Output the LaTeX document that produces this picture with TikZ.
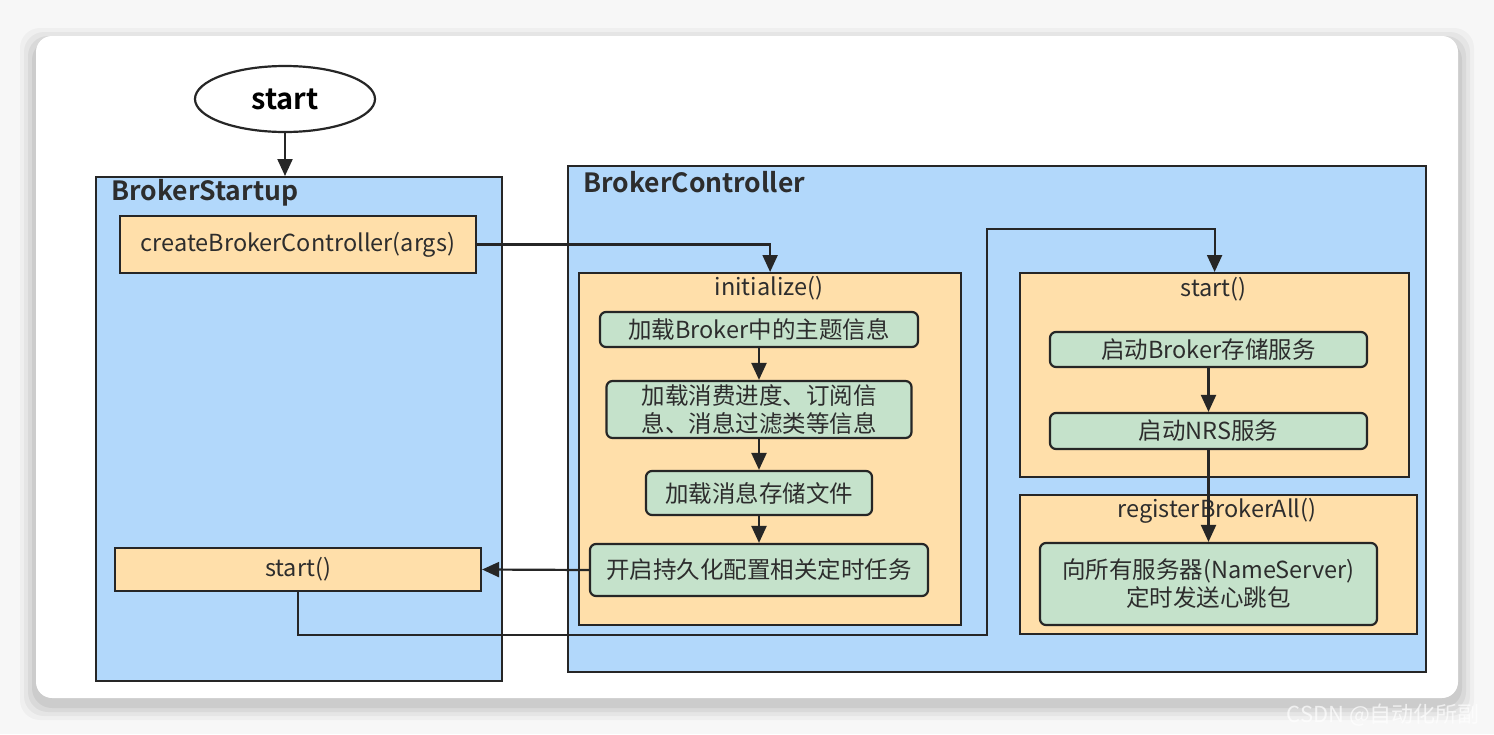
\documentclass[tikz,border=0pt]{standalone}
\usepackage{fontspec}
\setmainfont{Noto Sans CJK SC}[BoldFont={Noto Sans CJK SC Bold}]
\usetikzlibrary{arrows.meta,shapes.geometric}

\definecolor{bluebg}{RGB}{178,216,251}
\definecolor{orangebg}{RGB}{255,223,170}
\definecolor{greenbg}{RGB}{197,226,203}
\definecolor{linec}{RGB}{38,38,38}
\definecolor{textc}{RGB}{45,45,45}
\definecolor{pagebg}{RGB}{247,247,247}

\begin{document}
\begin{tikzpicture}[x=1pt,y=-1pt,
  group/.style={draw=linec,line width=2.2pt,fill=bluebg,anchor=north west,inner sep=0pt},
  func/.style={draw=linec,line width=2.2pt,fill=orangebg,inner sep=0pt},
  stepbox/.style={draw=linec,line width=2.2pt,fill=greenbg,rounded corners=6pt,
    align=center,inner sep=0pt,text=textc,font=\fontsize{23.5}{28}\selectfont},
  title/.style={font=\bfseries\fontsize{26.5}{30}\selectfont,text=textc,anchor=west},
  subtitle/.style={font=\fontsize{23.5}{28}\selectfont,text=textc},
  arr/.style={-{Triangle[length=17pt,width=15pt]},line width=2.2pt,draw=linec}]
\useasboundingbox (0,0) rectangle (1494,734);
\fill[pagebg] (0,0) rectangle (1494,734);
% card with soft shadow
\foreach \s/\o in {16/0.03,12/0.04,8/0.05,4/0.06}
  \fill[black,opacity=\o,rounded corners=20pt] (36-\s,36-\s+8) rectangle (1458+\s,698+\s+6);
\fill[white,rounded corners=16pt] (36,36) rectangle (1458,698);

% start
\node[ellipse,draw=linec,line width=2.2pt,fill=white,minimum width=180pt,minimum height=66pt,
  font=\bfseries\fontsize{29}{32}\selectfont] (start) at (285,99) {start};

% BrokerStartup
\node[group,minimum width=406pt,minimum height=504pt] (startup) at (95,176) {};
\node[title] (startupT) at (108,193) {BrokerStartup};
\node[func,minimum width=356pt,minimum height=57pt,text=textc,font=\fontsize{23.5}{28}\selectfont]
  (cbc) at (298,244.5) {createBrokerController(args)};
\node[func,minimum width=366pt,minimum height=43pt,text=textc,font=\fontsize{23.5}{28}\selectfont]
  (ss) at (298,569.5) {start()};

% BrokerController
\node[group,minimum width=858pt,minimum height=506pt] (ctrl) at (567,165) {};
\node[title] (ctrlT) at (580,182) {BrokerController};

% initialize()
\node[func,anchor=north west,minimum width=382pt,minimum height=352pt] (init) at (578,272) {};
\node[subtitle] (initT) at (769,288) {initialize()};
\node[stepbox,minimum width=318pt,minimum height=35pt] (g1) at (759,329.5) {加载Broker中的主题信息};
\node[stepbox,minimum width=305pt,minimum height=57pt] (g2) at (759,409.5) {加载消费进度、订阅信\\息、消息过滤类等信息};
\node[stepbox,minimum width=226pt,minimum height=44pt] (g3) at (759,493) {加载消息存储文件};
\node[stepbox,minimum width=338pt,minimum height=52pt] (g4) at (759,570) {开启持久化配置相关定时任务};

% start()
\node[func,anchor=north west,minimum width=389pt,minimum height=204pt] (rstart) at (1019,272) {};
\node[subtitle] (rstartT) at (1213.5,289) {start()};
\node[stepbox,minimum width=317pt,minimum height=35pt] (s1) at (1208.5,349.5) {启动Broker存储服务};
\node[stepbox,minimum width=317pt,minimum height=36pt] (s2) at (1208.5,431) {启动NRS服务};

% registerBrokerAll()
\node[func,anchor=north west,minimum width=397pt,minimum height=139pt] (reg) at (1019,494) {};
\node[subtitle] (regT) at (1217,511) {registerBrokerAll()};
\node[stepbox,minimum width=337pt,minimum height=82pt] (r1) at (1208.5,584) {向所有服务器(NameServer)\\定时发送心跳包};

% connectors
\coordinate (loopA) at (987,635);
\coordinate (loopB) at (987,229);
\draw[arr] (start.south) -- (start.south |- startup.north);
\draw[arr] (cbc.east) -| (init.north);
\draw[arr] (g1) -- (g2);
\draw[arr] (g2) -- (g3);
\draw[arr] (g3) -- (g4);
\draw[arr] (g4.west) -- (ss.east);
\draw[arr] (ss.south) |- (loopA) -- (loopB) -| (rstart.north);
\draw[arr] (s1) -- (s2);
\draw[arr] (s2.south) -- (r1.north);

% watermark
\node[anchor=west,text=white,opacity=0.7,font=\fontsize{22}{26}\selectfont] (mark) at (1283,715) {CSDN @自动化所副};
\end{tikzpicture}
\end{document}
